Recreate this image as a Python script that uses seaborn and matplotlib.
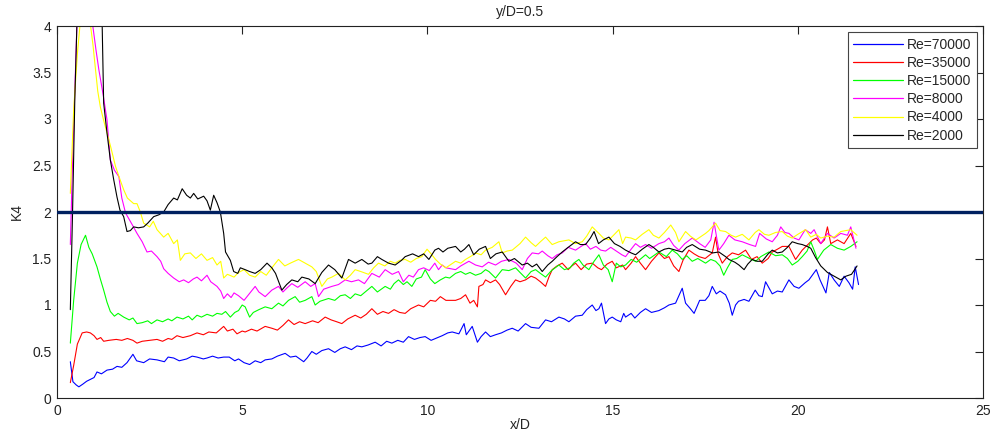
import numpy as np
import pandas as pd
import matplotlib
matplotlib.use("Agg")
import matplotlib.pyplot as plt
from matplotlib.lines import Line2D
import seaborn as sns
from matplotlib.ticker import FormatStrFormatter, MultipleLocator

labels = ["Re=70000", "Re=35000", "Re=15000", "Re=8000", "Re=4000", "Re=2000"]
colors = ["#0000ff", "#ff0000", "#00ff00", "#ff00ff", "#ffff00", "#000000"]

x_re70000 = [0.36,0.43,0.52,0.59,0.7,0.8,0.9,1.0,1.08,1.2,1.35,1.5,1.62,1.75,1.89,2.05,2.15,2.34,2.5,2.7,2.9,3.0,3.15,3.3,3.5,3.65,3.78,3.95,4.05,4.2,4.35,4.5,4.65,4.8,4.9,5.05,5.2,5.35,5.5,5.62,5.8,5.95,6.16,6.3,6.45,6.66,6.75,6.88,7.0,7.15,7.33,7.5,7.65,7.78,7.95,8.1,8.23,8.4,8.59,8.75,8.9,9.04,9.2,9.35,9.49,9.65,9.8,9.94,10.1,10.22,10.4,10.55,10.67,10.85,10.99,11.05,11.21,11.35,11.45,11.57,11.7,11.84,12.0,12.15,12.29,12.45,12.65,12.8,13.01,13.19,13.35,13.55,13.7,13.82,14.0,14.18,14.3,14.45,14.55,14.63,14.7,14.81,14.9,14.99,15.1,15.22,15.3,15.35,15.5,15.6,15.75,15.89,16.05,16.25,16.4,16.52,16.7,16.88,16.97,17.1,17.2,17.35,17.5,17.6,17.69,17.8,17.9,18.05,18.15,18.23,18.32,18.4,18.55,18.68,18.85,18.95,19.04,19.13,19.31,19.45,19.58,19.76,19.9,20.03,20.2,20.3,20.5,20.6,20.76,20.85,20.98,21.12,21.25,21.38,21.48,21.55,21.64]
y_re70000 = [0.39,0.175,0.14,0.12,0.15,0.18,0.20,0.22,0.28,0.26,0.30,0.31,0.34,0.33,0.38,0.47,0.40,0.38,0.42,0.41,0.39,0.44,0.43,0.40,0.42,0.45,0.44,0.42,0.43,0.45,0.43,0.44,0.44,0.40,0.42,0.38,0.36,0.40,0.38,0.41,0.42,0.45,0.48,0.44,0.45,0.39,0.43,0.50,0.47,0.51,0.53,0.49,0.53,0.55,0.52,0.56,0.55,0.57,0.60,0.56,0.61,0.59,0.62,0.60,0.66,0.63,0.65,0.66,0.62,0.64,0.67,0.70,0.71,0.69,0.80,0.68,0.77,0.60,0.66,0.71,0.66,0.68,0.70,0.73,0.75,0.72,0.80,0.76,0.75,0.84,0.82,0.87,0.85,0.82,0.88,0.89,0.95,1.0,0.94,0.96,1.02,0.80,0.85,0.87,0.84,0.82,0.91,0.87,0.91,0.86,0.92,0.96,0.92,0.94,0.97,1.0,1.02,1.18,1.02,0.96,0.91,1.05,1.05,1.10,1.20,1.12,1.15,1.11,1.02,0.89,1.00,1.04,1.06,1.04,1.16,1.10,1.09,1.25,1.12,1.15,1.14,1.27,1.20,1.18,1.24,1.27,1.38,1.27,1.13,1.35,1.27,1.20,1.31,1.24,1.17,1.41,1.22]

x_re35000 = [0.36,0.45,0.55,0.68,0.8,0.9,1.0,1.08,1.18,1.26,1.4,1.6,1.75,1.9,2.05,2.16,2.3,2.5,2.7,2.85,3.0,3.1,3.24,3.4,3.6,3.78,3.95,4.1,4.3,4.5,4.6,4.75,4.86,5.0,5.08,5.25,5.4,5.62,5.8,5.95,6.1,6.25,6.4,6.55,6.7,6.9,7.05,7.24,7.4,7.55,7.69,7.85,8.05,8.2,8.35,8.5,8.65,8.8,8.95,9.1,9.25,9.4,9.55,9.76,9.9,10.08,10.22,10.35,10.5,10.76,10.9,11.03,11.15,11.25,11.35,11.39,11.5,11.57,11.7,11.84,11.95,12.11,12.25,12.38,12.5,12.65,12.8,12.92,13.05,13.19,13.28,13.37,13.5,13.64,13.8,13.9,14.0,14.15,14.3,14.45,14.6,14.7,14.85,14.99,15.1,15.27,15.35,15.5,15.62,15.75,15.89,16.05,16.25,16.4,16.52,16.65,16.79,16.9,17.06,17.2,17.33,17.5,17.69,17.78,17.85,17.96,18.1,18.23,18.4,18.59,18.75,18.9,19.04,19.2,19.31,19.45,19.58,19.76,19.94,20.05,20.12,20.3,20.4,20.5,20.62,20.72,20.8,20.89,21.07,21.25,21.43,21.57]
y_re35000 = [0.165,0.35,0.58,0.70,0.71,0.70,0.67,0.63,0.65,0.61,0.62,0.63,0.62,0.64,0.62,0.59,0.61,0.62,0.63,0.61,0.64,0.63,0.67,0.65,0.67,0.70,0.68,0.71,0.70,0.77,0.72,0.74,0.69,0.72,0.71,0.74,0.72,0.77,0.75,0.73,0.78,0.84,0.79,0.82,0.80,0.83,0.81,0.87,0.84,0.82,0.80,0.85,0.89,0.86,0.90,0.96,0.90,0.93,0.91,0.95,0.92,0.91,0.96,1.00,0.98,1.05,1.04,1.09,1.05,1.05,1.07,1.11,1.02,1.05,0.98,1.20,1.22,1.27,1.24,1.27,1.22,1.11,1.20,1.27,1.25,1.27,1.31,1.29,1.25,1.20,1.30,1.38,1.42,1.45,1.38,1.42,1.45,1.38,1.44,1.45,1.40,1.38,1.44,1.47,1.40,1.43,1.38,1.45,1.52,1.45,1.38,1.47,1.56,1.50,1.52,1.42,1.36,1.48,1.59,1.55,1.52,1.50,1.56,1.73,1.55,1.45,1.52,1.56,1.54,1.59,1.49,1.52,1.45,1.50,1.57,1.60,1.63,1.63,1.49,1.55,1.59,1.66,1.70,1.72,1.66,1.70,1.84,1.66,1.70,1.66,1.77,1.63]

x_re15000 = [0.36,0.45,0.55,0.65,0.77,0.86,0.95,1.08,1.17,1.26,1.35,1.44,1.55,1.65,1.8,1.95,2.05,2.16,2.3,2.45,2.55,2.7,2.85,3.0,3.1,3.24,3.4,3.55,3.65,3.78,3.9,4.05,4.2,4.32,4.45,4.55,4.68,4.8,4.9,5.0,5.08,5.2,5.3,5.45,5.62,5.8,5.98,6.1,6.25,6.43,6.55,6.7,6.88,6.97,7.1,7.33,7.5,7.65,7.78,7.92,8.05,8.2,8.35,8.5,8.65,8.86,9.0,9.1,9.22,9.35,9.45,9.58,9.7,9.84,9.94,10.08,10.2,10.35,10.49,10.6,10.76,10.9,11.03,11.15,11.3,11.45,11.57,11.66,11.84,12.02,12.2,12.38,12.5,12.65,12.8,12.92,13.05,13.19,13.35,13.55,13.7,13.85,13.95,14.09,14.2,14.36,14.5,14.63,14.75,14.88,14.99,15.1,15.22,15.35,15.5,15.65,15.89,16.0,16.25,16.45,16.61,16.75,16.88,17.0,17.15,17.3,17.51,17.65,17.78,17.9,18.0,18.1,18.23,18.35,18.5,18.7,18.86,19.0,19.22,19.4,19.58,19.72,19.85,20.0,20.12,20.25,20.35,20.45,20.53,20.7,20.89,21.07,21.25,21.43,21.6]
y_re15000 = [0.59,1.05,1.45,1.65,1.75,1.62,1.55,1.41,1.28,1.16,1.03,0.93,0.88,0.91,0.87,0.84,0.86,0.80,0.81,0.83,0.80,0.84,0.82,0.85,0.83,0.87,0.85,0.88,0.84,0.89,0.87,0.90,0.88,0.91,0.90,0.93,0.87,0.92,0.94,1.00,0.98,0.87,0.92,0.95,0.98,0.96,1.02,0.99,1.05,1.09,1.03,1.05,1.09,1.00,1.04,1.07,1.05,1.10,1.11,1.07,1.12,1.10,1.15,1.20,1.14,1.20,1.17,1.23,1.27,1.22,1.25,1.20,1.28,1.30,1.38,1.28,1.23,1.27,1.30,1.29,1.34,1.36,1.33,1.35,1.32,1.34,1.38,1.36,1.29,1.38,1.37,1.40,1.35,1.29,1.36,1.38,1.34,1.30,1.37,1.43,1.38,1.40,1.45,1.49,1.43,1.38,1.47,1.54,1.43,1.38,1.25,1.45,1.41,1.43,1.49,1.46,1.54,1.50,1.57,1.52,1.59,1.55,1.49,1.53,1.47,1.50,1.45,1.49,1.47,1.42,1.32,1.40,1.49,1.50,1.54,1.50,1.47,1.52,1.57,1.53,1.54,1.50,1.43,1.47,1.52,1.58,1.68,1.58,1.49,1.59,1.65,1.61,1.59,1.63,1.68]

x_re8000 = [0.36,0.41,0.48,0.54,0.65,0.8,0.97,1.05,1.13,1.25,1.35,1.44,1.55,1.67,1.75,1.85,1.95,2.05,2.16,2.3,2.43,2.55,2.7,2.8,2.88,3.0,3.15,3.3,3.42,3.55,3.68,3.78,3.9,4.05,4.15,4.25,4.32,4.42,4.5,4.6,4.7,4.78,4.9,5.05,5.15,5.25,5.35,5.45,5.62,5.8,5.98,6.1,6.2,6.34,6.5,6.7,6.85,6.97,7.06,7.2,7.42,7.6,7.78,7.95,8.14,8.3,8.5,8.7,8.86,9.05,9.22,9.35,9.5,9.62,9.76,9.9,10.05,10.2,10.3,10.4,10.5,10.76,10.9,11.12,11.3,11.48,11.65,11.84,12.0,12.2,12.4,12.56,12.7,12.83,13.0,13.1,13.25,13.37,13.5,13.64,13.8,14.0,14.15,14.27,14.4,14.55,14.68,14.81,14.95,15.1,15.25,15.35,15.5,15.62,15.75,15.89,16.05,16.25,16.4,16.52,16.65,16.79,16.95,17.15,17.35,17.5,17.65,17.74,17.82,17.87,18.0,18.14,18.3,18.5,18.7,18.86,18.97,19.15,19.31,19.45,19.54,19.65,19.76,19.9,20.03,20.2,20.35,20.44,20.62,20.8,20.98,21.16,21.34,21.43,21.57]
y_re8000 = [1.65,2.4,3.3,4.05,4.5,4.4,3.99,3.75,3.53,3.25,2.99,2.56,2.45,2.38,2.15,1.99,1.92,1.85,1.77,1.68,1.57,1.58,1.52,1.47,1.39,1.34,1.29,1.25,1.27,1.24,1.28,1.30,1.26,1.32,1.25,1.22,1.20,1.15,1.07,1.12,1.08,1.13,1.10,1.05,1.10,1.15,1.20,1.14,1.09,1.16,1.20,1.14,1.18,1.23,1.19,1.25,1.20,1.23,1.09,1.17,1.20,1.22,1.27,1.25,1.27,1.23,1.34,1.30,1.38,1.33,1.36,1.25,1.32,1.30,1.38,1.40,1.37,1.45,1.38,1.43,1.40,1.38,1.42,1.47,1.43,1.41,1.46,1.43,1.47,1.49,1.45,1.38,1.50,1.56,1.55,1.58,1.53,1.50,1.54,1.56,1.62,1.59,1.63,1.66,1.60,1.63,1.59,1.58,1.62,1.58,1.54,1.52,1.60,1.66,1.62,1.65,1.61,1.66,1.68,1.72,1.64,1.59,1.66,1.72,1.66,1.62,1.70,1.89,1.70,1.59,1.66,1.75,1.70,1.68,1.65,1.63,1.77,1.71,1.68,1.75,1.84,1.78,1.77,1.72,1.70,1.81,1.77,1.81,1.66,1.77,1.72,1.77,1.75,1.84,1.61]

x_re4000 = [0.36,0.45,0.55,0.63,0.75,0.9,0.97,1.04,1.1,1.17,1.25,1.35,1.45,1.58,1.7,1.8,1.9,2.07,2.16,2.25,2.34,2.5,2.6,2.7,2.88,3.0,3.15,3.25,3.33,3.45,3.6,3.75,3.9,4.05,4.2,4.32,4.42,4.5,4.6,4.78,4.9,5.05,5.2,5.35,5.5,5.65,5.8,5.98,6.15,6.3,6.52,6.7,6.88,7.0,7.15,7.3,7.42,7.6,7.78,7.92,8.05,8.2,8.41,8.55,8.68,8.85,9.0,9.13,9.25,9.4,9.55,9.7,9.85,9.99,10.1,10.22,10.35,10.5,10.76,10.9,11.03,11.2,11.3,11.45,11.57,11.75,11.93,12.02,12.15,12.29,12.5,12.65,12.8,12.92,13.05,13.19,13.37,13.55,13.82,14.0,14.18,14.3,14.45,14.55,14.63,14.75,14.9,15.05,15.17,15.27,15.35,15.5,15.62,15.8,15.98,16.1,16.25,16.4,16.57,16.7,16.79,16.97,17.1,17.25,17.4,17.51,17.6,17.78,17.9,18.05,18.2,18.32,18.5,18.68,18.85,18.95,19.1,19.22,19.4,19.58,19.72,19.85,20.0,20.21,20.35,20.5,20.62,20.8,20.98,21.16,21.43,21.6]
y_re4000 = [2.2,3.1,3.7,4.05,4.5,4.02,3.8,3.53,3.3,3.13,3.0,2.85,2.7,2.49,2.35,2.24,2.15,2.09,2.09,2.0,1.88,1.84,1.9,1.81,1.73,1.77,1.66,1.70,1.48,1.55,1.56,1.50,1.55,1.48,1.51,1.43,1.47,1.29,1.33,1.30,1.35,1.38,1.32,1.30,1.36,1.32,1.40,1.49,1.42,1.45,1.49,1.45,1.41,1.36,1.20,1.28,1.30,1.34,1.27,1.32,1.38,1.36,1.33,1.40,1.45,1.42,1.47,1.45,1.48,1.49,1.46,1.50,1.52,1.60,1.55,1.49,1.44,1.40,1.47,1.45,1.49,1.53,1.56,1.54,1.59,1.62,1.68,1.56,1.58,1.59,1.66,1.73,1.67,1.63,1.68,1.73,1.65,1.68,1.70,1.66,1.68,1.74,1.84,1.80,1.77,1.72,1.70,1.76,1.81,1.66,1.73,1.72,1.70,1.76,1.81,1.75,1.72,1.78,1.86,1.78,1.68,1.79,1.74,1.70,1.74,1.77,1.80,1.88,1.80,1.79,1.75,1.73,1.76,1.70,1.78,1.81,1.76,1.75,1.78,1.79,1.74,1.72,1.76,1.81,1.73,1.76,1.72,1.74,1.73,1.79,1.81,1.75]

x_re2000 = [0.36,0.42,0.48,0.54,0.7,1.0,1.22,1.26,1.35,1.44,1.53,1.62,1.7,1.8,1.89,1.98,2.07,2.2,2.34,2.45,2.61,2.75,2.88,3.0,3.15,3.25,3.38,3.5,3.6,3.69,3.8,3.96,4.05,4.14,4.23,4.32,4.41,4.5,4.55,4.68,4.77,4.88,4.95,5.08,5.2,5.35,5.5,5.67,5.8,5.9,6.07,6.2,6.34,6.5,6.61,6.8,6.97,7.15,7.33,7.5,7.69,7.87,8.05,8.23,8.4,8.5,8.65,8.77,8.95,9.13,9.3,9.4,9.6,9.76,9.9,10.04,10.2,10.3,10.42,10.55,10.76,10.9,11.0,11.12,11.25,11.4,11.57,11.7,11.85,12.02,12.2,12.35,12.56,12.7,12.83,12.95,13.1,13.25,13.37,13.5,13.64,13.8,14.0,14.13,14.27,14.4,14.5,14.62,14.75,14.9,15.05,15.2,15.35,15.5,15.62,15.8,15.98,16.1,16.25,16.4,16.52,16.7,16.88,17.0,17.15,17.35,17.51,17.7,17.87,18.05,18.14,18.3,18.41,18.55,18.65,18.77,18.9,19.04,19.2,19.31,19.45,19.58,19.72,19.85,20.0,20.12,20.25,20.35,20.48,20.62,20.8,20.98,21.16,21.3,21.45,21.6]
y_re2000 = [0.95,2.0,3.2,4.05,4.6,4.5,4.0,3.17,2.85,2.56,2.35,2.16,2.02,1.95,1.79,1.80,1.84,1.83,1.84,1.88,1.95,1.97,2.0,2.08,2.15,2.13,2.25,2.18,2.15,2.2,2.14,2.17,2.12,2.02,2.18,2.10,2.0,1.77,1.57,1.48,1.36,1.34,1.40,1.38,1.36,1.34,1.38,1.45,1.40,1.34,1.16,1.22,1.27,1.25,1.30,1.28,1.23,1.35,1.43,1.38,1.29,1.49,1.45,1.49,1.44,1.45,1.52,1.49,1.45,1.43,1.48,1.52,1.55,1.52,1.55,1.49,1.59,1.61,1.57,1.61,1.63,1.57,1.60,1.65,1.54,1.60,1.63,1.50,1.55,1.57,1.47,1.50,1.43,1.45,1.41,1.44,1.36,1.43,1.47,1.52,1.57,1.62,1.68,1.65,1.65,1.72,1.79,1.66,1.70,1.73,1.66,1.63,1.59,1.56,1.54,1.60,1.65,1.62,1.57,1.60,1.61,1.59,1.57,1.62,1.65,1.60,1.59,1.56,1.57,1.52,1.49,1.46,1.43,1.38,1.44,1.49,1.47,1.47,1.55,1.59,1.56,1.57,1.62,1.68,1.66,1.65,1.63,1.61,1.51,1.42,1.35,1.31,1.27,1.31,1.33,1.42]

xs = [x_re70000, x_re35000, x_re15000, x_re8000, x_re4000, x_re2000]
ys = [y_re70000, y_re35000, y_re15000, y_re8000, y_re4000, y_re2000]

frames = []
for lab, xv, yv in zip(labels, xs, ys):
    frames.append(pd.DataFrame({"x/D": xv, "K4": yv, "series": lab}))
df = pd.concat(frames, ignore_index=True)

sns.set_style("white")
plt.rcParams["font.family"] = ["Liberation Sans", "DejaVu Sans"]
FS = 10

fig = plt.figure(figsize=(9.94, 4.38), dpi=100)
ax = fig.add_axes([57/994, 1-398/438, (983-57)/994, (398-26)/438])

palette = dict(zip(labels, colors))
sns.lineplot(data=df, x="x/D", y="K4", hue="series", hue_order=labels,
             palette=palette, sort=False, estimator=None,
             linewidth=0.8, ax=ax, legend=False)

ax.axhline(2, color="#002060", linewidth=2.4, zorder=5)

ax.set_xlim(0, 25)
ax.set_ylim(0, 4)
ax.xaxis.set_major_locator(MultipleLocator(5))
ax.yaxis.set_major_locator(MultipleLocator(0.5))
ax.yaxis.set_major_formatter(FormatStrFormatter("%g"))
ax.tick_params(direction="in", length=6, width=0.8, top=True, right=True,
               labelsize=FS, colors="#222222", pad=4)
for s in ax.spines.values():
    s.set_color("#222222")
    s.set_linewidth(0.8)

ax.set_xlabel("x/D", fontsize=FS, labelpad=0)
ax.set_ylabel("K4", fontsize=FS, labelpad=6)
ax.set_title("y/D=0.5", fontsize=FS, pad=7)

handles = [Line2D([0], [0], color=c, linewidth=0.9) for c in colors]
leg = ax.legend(handles, labels, loc="upper right", fontsize=FS, frameon=True,
                fancybox=False, edgecolor="#444444", framealpha=1,
                handlelength=3.6, handletextpad=0.25, borderaxespad=0.45,
                labelspacing=0.3, borderpad=0.4)
leg.get_frame().set_linewidth(0.8)

fig.savefig("out.png", dpi=100)
